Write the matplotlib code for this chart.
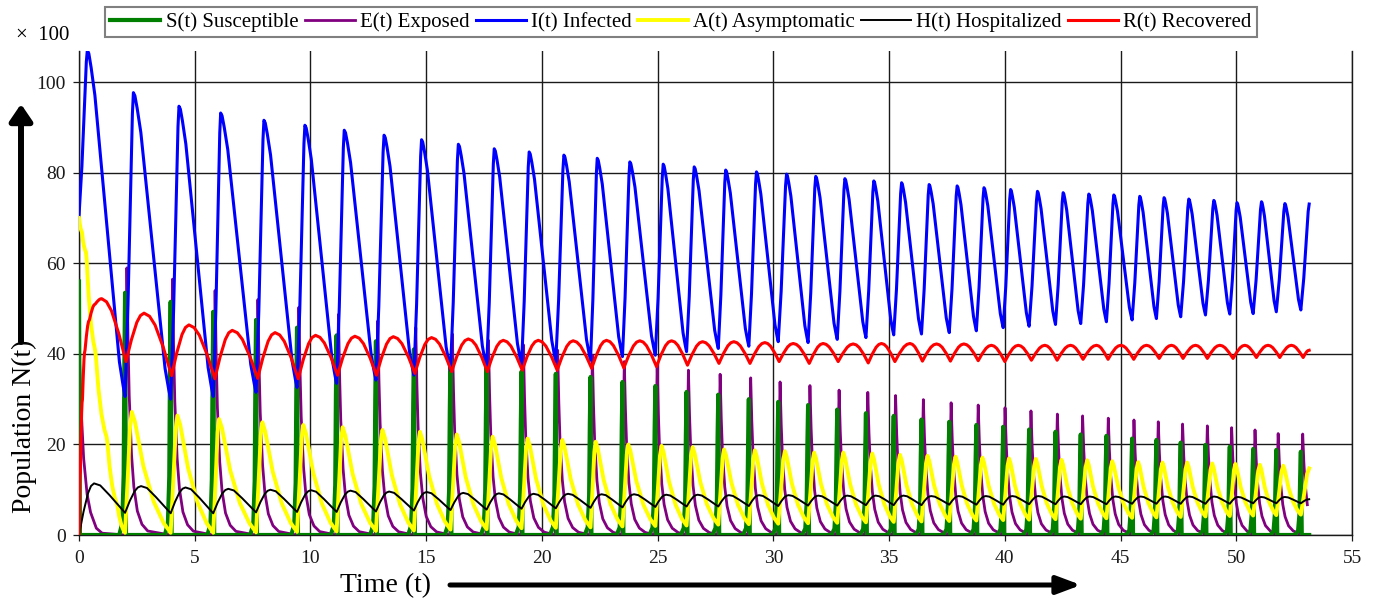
import matplotlib

matplotlib.use("Agg")
import matplotlib.pyplot as plt

plt.rcParams["font.family"] = ["Liberation Serif", "DejaVu Serif"]

T_END = 53.15

# times of the I(t) troughs, where S(t) spikes
cycle_t = [1.99, 3.96, 5.80, 7.65, 9.42, 11.13, 12.83, 14.47, 16.05, 17.61,
           19.12, 20.60, 22.10, 23.48, 24.90, 26.25, 27.62, 28.94, 30.21, 31.50,
           32.76, 34.00, 35.20, 36.40, 37.60, 38.77, 39.93, 41.05, 42.19, 43.28,
           44.39, 45.50, 46.55, 47.60, 48.67, 49.72, 50.73, 51.73, 52.79]

# I(t) infected
i_start, i_end = 70.5, 73.1
i_peak_t = [0.36, 2.35, 4.32, 6.12, 7.99, 9.76, 11.46, 13.18, 14.80, 16.39,
            17.94, 19.45, 20.95, 22.39, 23.80, 25.24, 26.58, 27.94, 29.27, 30.57,
            31.83, 33.09, 34.34, 35.54, 36.73, 37.94, 39.10, 40.25, 41.41, 42.52,
            43.63, 44.71, 45.83, 46.88, 47.95, 49.03, 50.03, 51.09, 52.10]
i_peak = [107.1, 97.7, 94.7, 93.2, 91.6, 90.5, 89.4, 88.3, 87.3, 86.3,
          85.3, 84.6, 83.9, 83.2, 82.4, 81.9, 81.3, 80.6, 80.2, 79.7,
          79.2, 78.7, 78.2, 77.8, 77.4, 77.1, 76.7, 76.3, 75.9, 75.6,
          75.3, 75.1, 74.8, 74.5, 74.2, 73.9, 73.4, 73.6, 73.2]
i_trough = [30.6, 30.0, 30.6, 31.5, 32.6, 33.5, 34.2, 35.3, 36.4, 36.8,
            37.5, 38.3, 38.6, 39.4, 39.7, 40.5, 41.2, 41.7, 42.7, 42.5,
            43.2, 43.6, 44.2, 44.4, 44.7, 45.1, 45.8, 46.1, 46.5, 46.7,
            47.1, 47.5, 47.8, 48.2, 48.6, 48.8, 48.9, 49.3, 49.7]

# S(t) susceptible: spike heights at cycle_t
s_start = [56.0, 0.0]
s_peak = [53.5, 51.5, 49.3, 47.5, 45.8, 44.1, 42.8, 41.0, 39.0, 37.2,
          36.1, 35.6, 34.9, 33.8, 32.9, 31.6, 31.0, 30.0, 29.4, 28.7,
          27.7, 26.9, 26.3, 25.5, 25.0, 24.3, 23.9, 23.3, 22.8, 22.2,
          21.9, 21.3, 21.0, 20.4, 19.9, 19.5, 19.0, 18.8, 18.4]

# E(t) exposed
e_start_t = [0.0, 0.1, 0.2, 0.35, 0.5, 0.75, 1.0]
e_start_v = [42.0, 27.0, 17.0, 9.0, 5.0, 1.5, 0.4]
e_peak = [59.0, 56.5, 54.0, 52.0, 50.3, 48.7, 47.3, 45.8, 44.4, 43.0,
          42.0, 40.8, 39.7, 38.3, 37.5, 36.4, 35.5, 34.7, 33.8, 33.0,
          32.0, 31.5, 30.8, 29.9, 29.2, 28.7, 28.1, 27.4, 26.7, 26.3,
          25.8, 25.4, 25.0, 24.5, 24.1, 23.7, 23.2, 22.4, 22.3]

# A(t) asymptomatic
a_start_t = [0.0, 0.12, 0.3, 0.69, 1.19, 1.63]
a_start_v = [70.0, 67.0, 62.5, 41.0, 21.7, 7.0]
a_end = 14.7
a_peak = [27.2, 26.4, 25.6, 24.9, 24.3, 23.8, 23.2, 22.8, 22.2, 21.7,
          21.3, 21.0, 20.6, 20.0, 19.7, 19.4, 18.9, 18.7, 18.5, 18.2,
          18.2, 18.0, 17.7, 17.5, 17.3, 17.1, 16.9, 16.8, 16.6, 16.5,
          16.3, 16.1, 16.0, 16.0, 15.8, 15.7, 15.5, 15.3]
a_trough = [0.5, 0.5, 0.5, 0.6, 0.7, 0.8, 0.9, 1.0, 1.2, 1.3,
            1.5, 1.6, 1.7, 1.9, 2.0, 2.1, 2.3, 2.4, 2.5, 2.6,
            2.7, 2.8, 2.9, 3.0, 3.1, 3.2, 3.3, 3.4, 3.5, 3.6,
            3.7, 3.8, 3.9, 4.0, 4.1, 4.2, 4.3, 4.4, 4.5]

# H(t) hospitalized
h_start, h_end = 0.0, 7.9
h_peak_t = [0.65, 2.68, 4.60, 6.45, 8.27, 10.02, 11.73, 13.40, 15.02, 16.60,
            18.14, 19.64, 21.13, 22.58, 23.98, 25.37, 26.73, 28.08, 29.38, 30.66,
            31.94, 33.19, 34.42, 35.62, 36.82, 38.01, 39.18, 40.32, 41.45, 42.57,
            43.67, 44.78, 45.87, 46.92, 47.97, 49.04, 50.07, 51.08, 52.10]
h_peak = [11.4, 10.8, 10.5, 10.2, 10.0, 9.9, 9.8, 9.6, 9.5, 9.3,
          9.2, 9.1, 9.1, 9.0, 9.0, 8.9, 8.9, 8.8, 8.8, 8.8,
          8.7, 8.7, 8.7, 8.7, 8.6, 8.6, 8.6, 8.6, 8.6, 8.5,
          8.5, 8.5, 8.5, 8.5, 8.5, 8.5, 8.4, 8.4, 8.4]
h_trough = [4.9, 4.8, 4.8, 5.0, 5.1, 5.1, 5.2, 5.4, 5.5, 5.6,
            5.8, 5.9, 6.0, 6.1, 6.2, 6.3, 6.3, 6.4, 6.4, 6.5,
            6.5, 6.6, 6.6, 6.6, 6.7, 6.7, 6.7, 6.8, 6.8, 6.8,
            6.8, 6.9, 6.9, 6.9, 6.9, 6.9, 7.0, 7.0, 7.0]

# R(t) recovered
r_start_t = [0.0, 0.06, 0.15, 0.26, 0.45, 0.7]
r_start_v = [0.0, 14.0, 30.0, 40.8, 47.5, 51.0]
r_end = 40.8
r_peak_t = [0.98, 2.81, 4.75, 6.62, 8.47, 10.22, 11.92, 13.58, 15.23, 16.82,
            18.33, 19.84, 21.35, 22.79, 24.23, 25.60, 26.94, 28.29, 29.63, 30.86,
            32.15, 33.45, 34.67, 35.90, 37.05, 38.23, 39.42, 40.58, 41.73, 42.84,
            43.96, 45.01, 46.12, 47.20, 48.24, 49.29, 50.37, 51.37, 52.38]
r_peak = [52.2, 49.0, 46.4, 45.2, 44.7, 44.1, 43.9, 43.8, 43.6, 43.3,
          43.0, 43.0, 42.9, 43.0, 42.9, 42.9, 42.7, 42.7, 42.5, 42.3,
          42.3, 42.2, 42.3, 42.3, 42.2, 42.2, 41.9, 41.9, 41.9, 41.9,
          41.9, 41.9, 41.9, 41.9, 41.9, 41.9, 41.9, 41.9, 41.9]
r_trough_t = [2.03, 4.00, 5.87, 7.72, 9.47, 11.17, 12.85, 14.51, 16.10, 17.64,
              19.15, 20.66, 22.15, 23.54, 24.95, 26.29, 27.65, 28.99, 30.25, 31.55,
              32.80, 34.10, 35.25, 36.44, 37.65, 38.85, 40.00, 41.15, 42.26, 43.38,
              44.46, 45.57, 46.67, 47.70, 48.75, 49.86, 50.87, 51.88, 52.89]
r_trough = [38.3, 35.2, 34.5, 34.6, 34.5, 35.3, 35.3, 35.7, 36.1, 36.1,
            36.4, 36.4, 36.8, 36.9, 37.2, 37.5, 37.9, 37.9, 38.3, 37.9,
            38.3, 38.0, 38.3, 38.4, 38.4, 38.5, 38.3, 38.6, 38.6, 38.8,
            38.8, 38.8, 39.0, 39.0, 39.0, 39.0, 39.2, 39.2, 39.2]

x_ticks = [0, 5, 10, 15, 20, 25, 30, 35, 40, 45, 50, 55]
y_ticks = [0, 20, 40, 60, 80, 100]

# curve shapes between read extremes: (relative position, progress)
I_RISE = ([0, 0.35, 0.7, 0.88, 1], [0, 0.3, 0.72, 0.93, 1])
I_FALL = ([0, 0.04, 0.1, 0.2, 0.85, 0.95, 1], [0, 0.01, 0.05, 0.13, 0.9, 0.97, 1])
ARCH_RISE = ([0, 0.3, 0.6, 0.8, 1], [0, 0.45, 0.81, 0.95, 1])
ARCH_FALL = ([0, 0.2, 0.4, 0.7, 1], [0, 0.05, 0.19, 0.55, 1])
H_FALL = ([0, 0.2, 0.5, 1], [0, 0.07, 0.4, 1])
A_RISE = ([0, 0.4, 0.75, 1], [0, 0.45, 0.88, 1])
A_FALL = ([0, 0.08, 0.3, 0.56, 0.82, 1], [0, 0.08, 0.45, 0.74, 0.92, 1])
A_LAG = 0.07
S_SPIKE = ([-0.25, -0.12, -0.06, -0.03, 0.0, 0.04], [0, 0.05, 0.25, 0.7, 1, 0])
E_LAG = 0.08
E_RISE = ([-0.03, 0.03], [0.0, 0.55])
E_DECAY = ([0.05, 0.1, 0.2, 0.3, 0.45, 0.65, 0.9], [0.72, 0.52, 0.3, 0.18, 0.09, 0.04, 0.015])


def interleave(a, b):
    return [x for pair in zip(a, b) for x in pair]


def shaped(times, values, rise, fall):
    out_t, out_v = [times[0]], [values[0]]
    for t0, v0, t1, v1 in zip(times[:-1], values[:-1], times[1:], values[1:]):
        pos, prog = rise if v1 >= v0 else fall
        for p, f in zip(pos[1:], prog[1:]):
            out_t.append(t0 + p * (t1 - t0))
            out_v.append(v0 + f * (v1 - v0))
    return out_t, out_v


def spikes_s():
    ts, vs = [0.0, 0.04], list(s_start)
    for tk, pk in zip(cycle_t, s_peak):
        for off, f in zip(*S_SPIKE):
            ts.append(tk + off)
            vs.append(f * pk)
    ts.append(T_END)
    vs.append(0.0)
    return ts, vs


def spikes_e():
    ts, vs = list(e_start_t), list(e_start_v)
    for k, (tk, pk) in enumerate(zip(cycle_t, e_peak)):
        nxt = cycle_t[k + 1] + E_RISE[0][0] if k + 1 < len(cycle_t) else T_END
        for off, f in zip(*E_RISE):
            ts.append(tk + off)
            vs.append(f * pk)
        tp = tk + E_LAG
        ts.append(tp)
        vs.append(pk)
        for off, f in zip(*E_DECAY):
            if tp + off < nxt and tp + off <= T_END:
                ts.append(tp + off)
                vs.append(f * pk)
    return ts, vs


t_i, v_i = shaped([0.0] + interleave(i_peak_t, cycle_t) + [T_END],
                  [i_start] + interleave(i_peak, i_trough) + [i_end], I_RISE, I_FALL)

a_peak_t = [t - A_LAG for t in i_peak_t[1:]]
t_a, v_a = shaped(a_start_t + interleave(cycle_t[:-1], a_peak_t) + [cycle_t[-1], T_END],
                  a_start_v + interleave(a_trough[:-1], a_peak) + [a_trough[-1], a_end],
                  A_RISE, A_FALL)

t_h, v_h = shaped([0.0] + interleave(h_peak_t, cycle_t) + [T_END],
                  [h_start] + interleave(h_peak, h_trough) + [h_end], ARCH_RISE, H_FALL)

t_r, v_r = shaped(r_start_t + interleave(r_peak_t, r_trough_t) + [T_END],
                  r_start_v + interleave(r_peak, r_trough) + [r_end], ARCH_RISE, ARCH_FALL)

t_s, v_s = spikes_s()
t_e, v_e = spikes_e()

fig = plt.figure(figsize=(13.77, 6.0), dpi=100)
ax = fig.add_axes([79 / 1377, 1 - 535 / 600, (1352 - 79) / 1377, (535 - 51) / 600])

ax.plot(t_s, v_s, color="#007F00", lw=3.0, label="S(t) Susceptible", zorder=2.6)
ax.plot(t_e, v_e, color="#800080", lw=2.0, label="E(t) Exposed", zorder=2.5)
ax.plot(t_i, v_i, color="#0000FF", lw=2.2, label="I(t) Infected", zorder=2.7)
ax.plot(t_a, v_a, color="#FFFF00", lw=2.8, label="A(t) Asymptomatic", zorder=2.8)
ax.plot(t_h, v_h, color="#000000", lw=1.4, label="H(t) Hospitalized", zorder=2.9)
ax.plot(t_r, v_r, color="#FF0000", lw=2.2, label="R(t) Recovered", zorder=3.0)

ax.set_xlim(0, 55)
ax.set_ylim(0, 106.9)
ax.set_xticks(x_ticks)
ax.set_yticks(y_ticks)
ax.grid(True, color="#1a1a1a", lw=1.0)
ax.set_axisbelow(True)
ax.spines["top"].set_visible(False)
for side in ("left", "bottom", "right"):
    ax.spines[side].set_color("#1a1a1a")
    ax.spines[side].set_linewidth(1.0)
ax.tick_params(direction="out", length=4.5, width=0.9, labelsize=14, pad=5, colors="#1a1a1a")
ax.tick_params(axis="x", pad=6)

handles, labels = ax.get_legend_handles_labels()
fig.legend(handles, labels, loc="center", bbox_to_anchor=(0.4946, 0.963), ncol=6, fontsize=15,
           handlelength=2.4, handletextpad=0.25, columnspacing=0.3, borderpad=0.25,
           frameon=True, fancybox=False, edgecolor="#808080", framealpha=1)
fig.legends[0].get_frame().set_linewidth(1.5)

fig.text(16 / 1377, 1 - 35 / 600, "\u00d7  100", fontsize=15, ha="left", va="center")
fig.text(24 / 1377, 1 - 426 / 600, "Population N(t)", fontsize=20, rotation=90,
         ha="center", va="center")
fig.text(385 / 1377, 1 - 586 / 600, "Time (t)", fontsize=20, ha="center", va="center")

ax.annotate("", xy=(21, 600 - 104), xytext=(21, 600 - 342), xycoords="figure pixels",
            textcoords="figure pixels", annotation_clip=False,
            arrowprops=dict(arrowstyle="-|>,head_length=0.5,head_width=0.34", lw=4.3,
                            color="black", mutation_scale=20, shrinkA=0, shrinkB=0))
ax.annotate("", xy=(1081, 15), xytext=(450, 15), xycoords="figure pixels",
            textcoords="figure pixels", annotation_clip=False,
            arrowprops=dict(arrowstyle="-|>,head_length=0.72,head_width=0.27", lw=3.6,
                            color="black", mutation_scale=20, shrinkA=0, shrinkB=0))

fig.savefig("out.png", dpi=100)
